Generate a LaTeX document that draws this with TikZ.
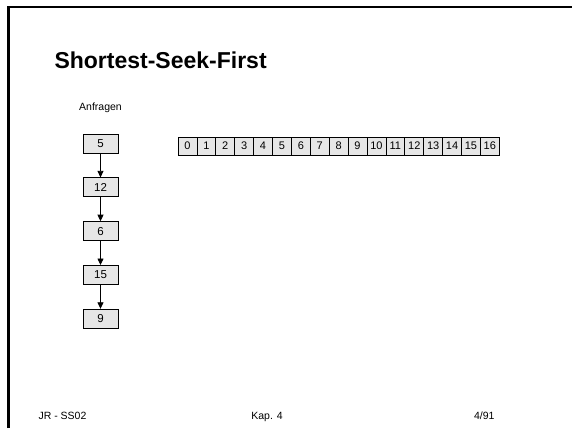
\documentclass[tikz,border=0pt]{standalone}
\usepackage{fontspec}
\setmainfont{Liberation Sans}
\usetikzlibrary{arrows.meta, positioning}
\definecolor{boxgray}{HTML}{E6E6E6}
\tikzset{
    slide/.style={>={Triangle[width=6pt, length=6.5pt]}, x=1pt, y=-1pt, font=\fontsize{10.5}{12}\selectfont},
    request/.style={draw, fill=boxgray, line width=0.8pt, minimum width=35pt, minimum height=19pt, inner sep=0pt, font=\fontsize{11.5}{13}\selectfont},
    track/.style={draw, fill=boxgray, line width=0.8pt, minimum width=18.9pt, minimum height=18pt, inner sep=0pt, font=\fontsize{11}{13}\selectfont},
    frameline/.style={line width=2.4pt},
    link/.style={->, line width=0.8pt},
}
\begin{document}
\begin{tikzpicture}[slide]
    \useasboundingbox (0,0) rectangle (572,428);
    % slide border
    \draw[frameline] (8.5,428) -- (8.5,6.8) -- (572,6.8);

    \node[anchor=base west, font=\fontsize{23}{27}\selectfont\bfseries] (title) at (51,68) {Shortest-Seek-First};

    % request queue
    \node (label) at (100.5,108) {Anfragen};
    \node[request]                   (r1) at (100.5,143.5) {5};
    \node[request, below=24pt of r1] (r2) {12};
    \node[request, below=24pt of r2] (r3) {6};
    \node[request, below=24pt of r3] (r4) {15};
    \node[request, below=24pt of r4] (r5) {9};
    \foreach \a/\b in {r1/r2, r2/r3, r3/r4, r4/r5}
        \draw[link] (\a) -- (\b);

    % tracks
    \foreach \i in {0,...,16}
        \node[track] (t\i) at (187.45+\i*18.9,146) {\i};

    % footer
    \node[anchor=base west] (author) at (35,419) {JR - SS02};
    \node[anchor=base]      (chapter) at (267,419) {Kap. 4};
    \node[anchor=base east] (page) at (498,419) {4/91};
\end{tikzpicture}
\end{document}
